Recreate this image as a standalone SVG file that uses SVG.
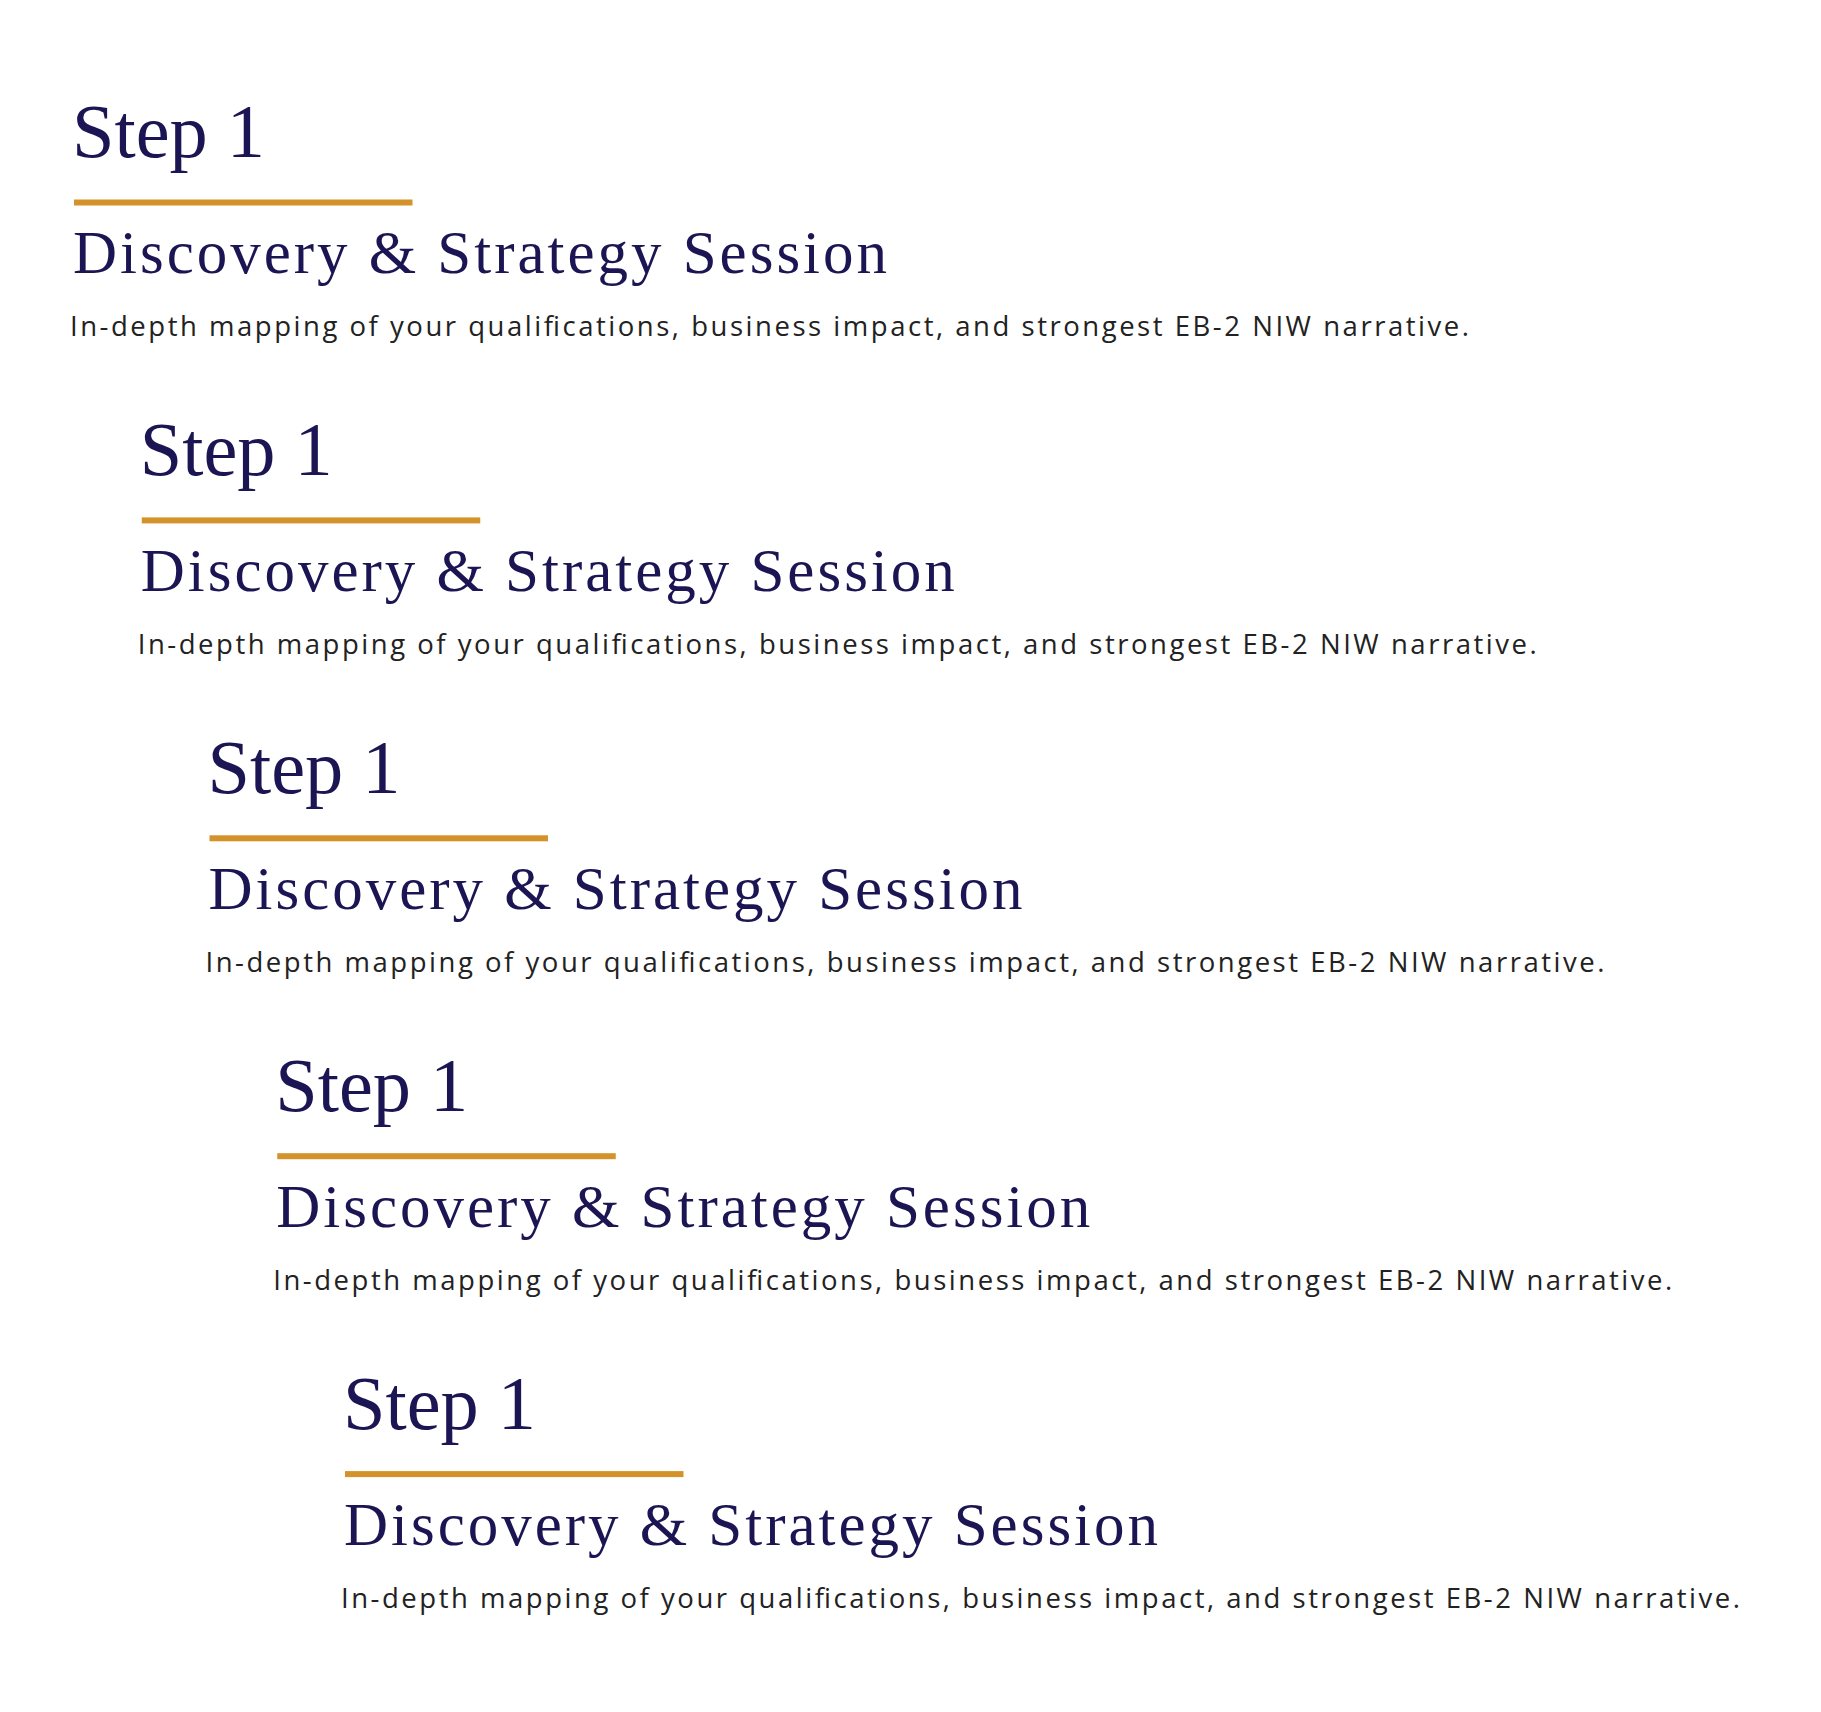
<svg xmlns="http://www.w3.org/2000/svg" width="1821" height="1712" viewBox="0 0 1821 1712">
<style>
.step{font-family:"Liberation Serif","DejaVu Serif",serif;font-size:76px;fill:#1b1553;}
.title{font-family:"Liberation Serif","DejaVu Serif",serif;font-size:61px;fill:#1b1553;}
.desc{font-family:"Open Sans","Liberation Sans",sans-serif;font-size:27.5px;fill:#222222;}
.bar{fill:#d4922b;}
</style>
<rect x="0" y="0" width="1821" height="1712" fill="#ffffff"/>
<g id="step1a" transform="translate(0,0)">
<text class="step" x="72" y="157" textLength="193" lengthAdjust="spacingAndGlyphs">Step 1</text>
<rect class="bar" x="74" y="199.5" width="338.5" height="6"/>
<text class="title" x="73" y="273" textLength="814" lengthAdjust="spacing">Discovery &amp; Strategy Session</text>
<text class="desc" x="70" y="336" textLength="1399" lengthAdjust="spacing">In-depth mapping of your qualifications, business impact, and strongest EB-2 NIW narrative.</text>
</g>
<g id="step1b" transform="translate(67.75,317.9)">
<text class="step" x="72" y="157" textLength="193" lengthAdjust="spacingAndGlyphs">Step 1</text>
<rect class="bar" x="74" y="199.5" width="338.5" height="6"/>
<text class="title" x="73" y="273" textLength="814" lengthAdjust="spacing">Discovery &amp; Strategy Session</text>
<text class="desc" x="70" y="336" textLength="1399" lengthAdjust="spacing">In-depth mapping of your qualifications, business impact, and strongest EB-2 NIW narrative.</text>
</g>
<g id="step1c" transform="translate(135.5,635.8)">
<text class="step" x="72" y="157" textLength="193" lengthAdjust="spacingAndGlyphs">Step 1</text>
<rect class="bar" x="74" y="199.5" width="338.5" height="6"/>
<text class="title" x="73" y="273" textLength="814" lengthAdjust="spacing">Discovery &amp; Strategy Session</text>
<text class="desc" x="70" y="336" textLength="1399" lengthAdjust="spacing">In-depth mapping of your qualifications, business impact, and strongest EB-2 NIW narrative.</text>
</g>
<g id="step1d" transform="translate(203.25,953.7)">
<text class="step" x="72" y="157" textLength="193" lengthAdjust="spacingAndGlyphs">Step 1</text>
<rect class="bar" x="74" y="199.5" width="338.5" height="6"/>
<text class="title" x="73" y="273" textLength="814" lengthAdjust="spacing">Discovery &amp; Strategy Session</text>
<text class="desc" x="70" y="336" textLength="1399" lengthAdjust="spacing">In-depth mapping of your qualifications, business impact, and strongest EB-2 NIW narrative.</text>
</g>
<g id="step1e" transform="translate(271,1271.6)">
<text class="step" x="72" y="157" textLength="193" lengthAdjust="spacingAndGlyphs">Step 1</text>
<rect class="bar" x="74" y="199.5" width="338.5" height="6"/>
<text class="title" x="73" y="273" textLength="814" lengthAdjust="spacing">Discovery &amp; Strategy Session</text>
<text class="desc" x="70" y="336" textLength="1399" lengthAdjust="spacing">In-depth mapping of your qualifications, business impact, and strongest EB-2 NIW narrative.</text>
</g>
<g id="connectors"></g>
</svg>
